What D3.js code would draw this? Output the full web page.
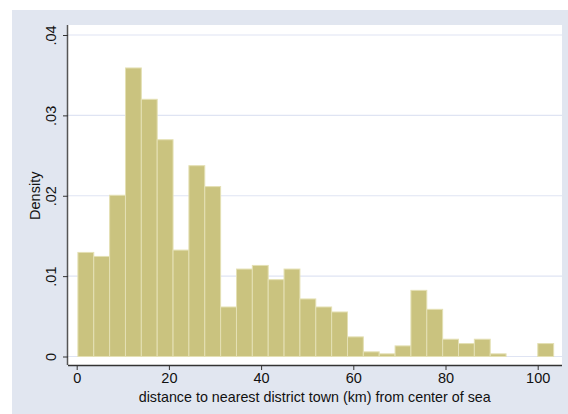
<!DOCTYPE html>
<html>
<head>
<meta charset="utf-8">
<script src="https://cdn.jsdelivr.net/npm/d3@7"></script>
<style>
  html, body { margin: 0; padding: 0; background: #ffffff; }
  svg { display: block; }
  text { font-family: "Liberation Sans", Arial, sans-serif; fill: #111; }
</style>
</head>
<body>
<svg id="chart" width="568" height="414"></svg>
<script>
// Histogram of distance to nearest district town (km), density scale
const binStart = 0.26;      // lower edge of first bin (km)
const binWidth = 3.44;      // bin width (km)
const densities = [
  0.01295, 0.01245, 0.02006, 0.0359, 0.0320, 0.02697, 0.01324, 0.02374,
  0.02114, 0.00616, 0.01088, 0.01133, 0.00956, 0.01088, 0.00716, 0.00616,
  0.00554, 0.00244, 0.00058, 0.00033, 0.00132, 0.00823, 0.00587, 0.00215,
  0.00161, 0.00215, 0.00033, 0, 0, 0.00161
];
const xTicks = [0, 20, 40, 60, 80, 100];
const yTicks = [0, 0.01, 0.02, 0.03, 0.04];
const yTickLabels = ["0", ".01", ".02", ".03", ".04"];
const xTitle = "distance to nearest district town (km) from center of sea";
const yTitle = "Density";

const bins = densities.map((d, i) => ({
  x0: binStart + i * binWidth,
  x1: binStart + (i + 1) * binWidth,
  density: d
}));

const svg = d3.select("#chart");

// graph region
svg.append("rect")
  .attr("x", 12).attr("y", 10)
  .attr("width", 556).attr("height", 404)
  .attr("fill", "#e1e6f0");

// plot region
const plot = { left: 68, right: 562, top: 25, bottom: 365 };
svg.append("rect")
  .attr("x", plot.left).attr("y", plot.top)
  .attr("width", plot.right - plot.left)
  .attr("height", plot.bottom - plot.top)
  .attr("fill", "#ffffff");

const x = d3.scaleLinear().domain([0, 100]).range([76.7, 537.7]);
const y = d3.scaleLinear().domain([0, 0.04]).range([356.5, 35]);

// horizontal grid lines
svg.append("g")
  .selectAll("line")
  .data(yTicks)
  .join("line")
  .attr("x1", plot.left).attr("x2", plot.right)
  .attr("y1", d => y(d)).attr("y2", d => y(d))
  .attr("stroke", "#dfe4f3")
  .attr("stroke-width", 1.2);

// bars
svg.append("g")
  .selectAll("rect")
  .data(bins.filter(b => b.density > 0))
  .join("rect")
  .attr("x", d => x(d.x0))
  .attr("width", d => x(d.x1) - x(d.x0))
  .attr("y", d => y(d.density))
  .attr("height", d => y(0) - y(d.density))
  .attr("fill", "#cac37f")
  .attr("stroke", "#e4e0b4")
  .attr("stroke-width", 1);

// x axis
const xAxis = svg.append("g")
  .attr("transform", `translate(0,${plot.bottom})`)
  .call(d3.axisBottom(x).tickValues(xTicks).tickSize(5).tickPadding(3).tickFormat(d3.format("d")));
xAxis.select(".domain").attr("d", `M${plot.left},0.5H${plot.right}`).attr("stroke", "#333").attr("stroke-width", 1.5);
xAxis.selectAll(".tick line").attr("stroke", "#333");
xAxis.selectAll(".tick text")
  .attr("font-size", 14.5)
  .attr("font-family", "Liberation Sans, Arial, sans-serif")
  .attr("fill", "#111");

// y axis
const yAxis = svg.append("g")
  .attr("transform", `translate(${plot.left},0)`)
  .call(d3.axisLeft(y).tickValues(yTicks).tickSize(5).tickPadding(0)
    .tickFormat((d, i) => yTickLabels[i]));
yAxis.select(".domain").attr("d", `M-0.5,${plot.top}V${plot.bottom}`).attr("stroke", "#555").attr("stroke-width", 1.5);
yAxis.selectAll(".tick line").attr("stroke", "#333");
yAxis.selectAll(".tick text")
  .attr("x", 0).attr("dy", null)
  .attr("transform", "translate(-17.5,0) rotate(-90)")
  .attr("text-anchor", "middle")
  .attr("dominant-baseline", "central")
  .attr("font-size", 14.5)
  .attr("font-family", "Liberation Sans, Arial, sans-serif")
  .attr("fill", "#111");

// axis titles
svg.append("text")
  .attr("x", 314.7).attr("y", 401.5)
  .attr("text-anchor", "middle")
  .attr("font-size", 14.3)
  .text(xTitle);

svg.append("text")
  .attr("transform", `translate(40,${(y(0) + y(0.04)) / 2}) rotate(-90)`)
  .attr("text-anchor", "middle")
  .attr("font-size", 14.5)
  .text(yTitle);
</script>
</body>
</html>
